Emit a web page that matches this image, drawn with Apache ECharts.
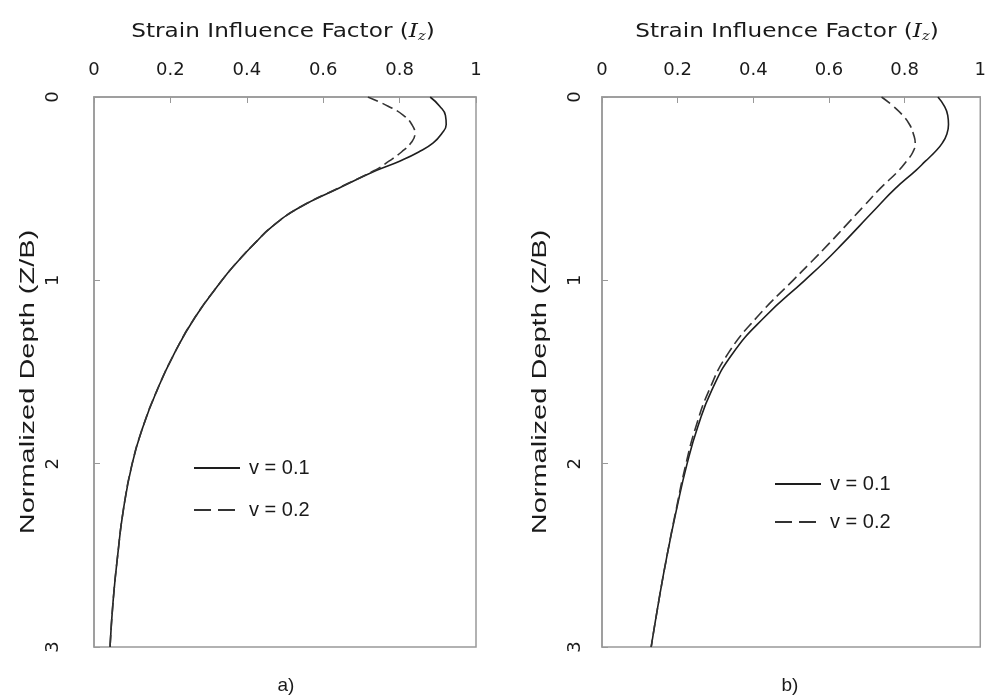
<!DOCTYPE html>
<html>
<head>
<meta charset="utf-8">
<script src="https://cdn.jsdelivr.net/npm/echarts@6/dist/echarts.min.js"></script>
<style>
  html, body { margin: 0; padding: 0; background: #fff; }
  #chart { width: 989px; height: 698px; }
</style>
</head>
<body>
<div id="chart"></div>
<script>
// depth values (Z/B), shared by all curves
const depth = [0, 0.05, 0.1, 0.15, 0.2, 0.25, 0.3, 0.35, 0.4, 0.5, 0.6, 0.7, 0.8, 0.9, 1.0, 1.2, 1.4, 1.6, 1.8, 2.0, 2.25, 2.5, 2.75, 3.0];
// panel a) strain influence factor Iz
const a_v01 = [0.88, 0.905, 0.92, 0.922, 0.91, 0.888, 0.85, 0.8, 0.74, 0.638, 0.54, 0.47, 0.42, 0.375, 0.335, 0.265, 0.21, 0.165, 0.128, 0.1, 0.077, 0.062, 0.05, 0.042];
const a_v02 = [0.717, 0.77, 0.81, 0.832, 0.84, 0.83, 0.805, 0.772, 0.735, 0.636, 0.54, 0.47, 0.42, 0.375, 0.335, 0.265, 0.21, 0.165, 0.128, 0.1, 0.077, 0.062, 0.05, 0.042];
// panel b)
const b_v01 = [0.888, 0.905, 0.914, 0.916, 0.912, 0.9, 0.88, 0.855, 0.83, 0.775, 0.728, 0.682, 0.636, 0.588, 0.536, 0.43, 0.345, 0.29, 0.253, 0.225, 0.197, 0.172, 0.15, 0.13];
const b_v02 = [0.739, 0.77, 0.795, 0.813, 0.823, 0.828, 0.822, 0.805, 0.785, 0.735, 0.69, 0.645, 0.6, 0.553, 0.505, 0.41, 0.333, 0.283, 0.248, 0.222, 0.196, 0.172, 0.15, 0.13];
const xTicks = [0, 0.2, 0.4, 0.6, 0.8, 1];
const yTicks = [0, 1, 2, 3];
const seriesNames = ["v = 0.1", "v = 0.2"];
const panelLabels = ["a)", "b)"];

const pairs = (vals) => vals.map((v, i) => [v, depth[i]]);

const chart = echarts.init(document.getElementById("chart"));

const textColor = "#1a1a1a";
const frame = "#999";

function xAx(gi) {
  return {
    type: "value",
    gridIndex: gi,
    position: "top",
    min: 0,
    max: 1,
    interval: 0.2,
    axisLine: { show: true, lineStyle: { color: frame, width: 1.5 } },
    axisTick: { show: true, inside: true, length: 6, lineStyle: { color: frame } },
    axisLabel: {
      color: textColor,
      fontFamily: "DejaVu Sans",
      fontSize: 18,
      margin: 18,
      formatter: (v) => {
        const r = Math.round(v * 10) / 10;
        return xTicks.includes(r) ? String(r) : "";
      },
    },
    splitLine: { show: false },
  };
}

function yAx(gi, margin) {
  return {
    type: "value",
    gridIndex: gi,
    inverse: true,
    min: 0,
    max: 3,
    interval: 1,
    axisLine: { show: true, lineStyle: { color: frame, width: 1.5 } },
    axisTick: { show: true, inside: true, length: 6, lineStyle: { color: frame } },
    axisLabel: {
      color: textColor,
      fontFamily: "DejaVu Sans",
      fontSize: 18,
      rotate: 90,
      margin: margin,
      formatter: (v) => (yTicks.includes(v) ? String(v) : ""),
    },
    splitLine: { show: false },
  };
}

function line(name, vals, xi, dashed) {
  const c = dashed ? "#333" : "#1e1e1e";
  return {
    name: name,
    type: "line",
    xAxisIndex: xi,
    yAxisIndex: xi,
    data: pairs(vals),
    smooth: true,
    symbol: "none",
    itemStyle: { color: c },
    lineStyle: { color: c, width: 1.6, type: dashed ? [11, 5] : "solid" },
  };
}

function legend(left, top, gap) {
  return {
    left: left,
    top: top,
    orient: "vertical",
    itemGap: gap,
    itemWidth: 46,
    itemHeight: 12,
    data: [
      { name: seriesNames[0] },
      { name: seriesNames[1], lineStyle: { type: [17, 7] } },
    ],
    itemStyle: { opacity: 0 },
    textStyle: { color: textColor, fontFamily: "Liberation Sans", fontSize: 20, padding: [0, 0, 0, 4] },
    selectedMode: false,
  };
}

const titleRich = {
  i: { fontFamily: "DejaVu Serif", fontStyle: "italic", fontSize: 19, fill: textColor },
  s: { fontFamily: "DejaVu Serif", fontStyle: "italic", fontSize: 12, fill: textColor, padding: [10, 0, 0, 0] },
};

function topTitle(cx) {
  return {
    type: "text",
    x: cx,
    y: 32,
    scaleX: 1.22,
    style: {
      text: "Strain Influence Factor ({i|I}{s|z})",
      rich: titleRich,
      fill: textColor,
      font: "19px 'DejaVu Sans'",
      align: "center",
      verticalAlign: "middle",
    },
  };
}

function sideTitle(cx) {
  return {
    type: "text",
    x: cx,
    y: 382,
    rotation: Math.PI / 2,
    scaleX: 1.45,
    style: {
      text: "Normalized Depth (Z/B)",
      fill: textColor,
      font: "20px 'Liberation Sans'",
      align: "center",
      verticalAlign: "middle",
    },
  };
}

const options = {
  backgroundColor: "#fff",
  animation: false,
  grid: [
    { left: 94, top: 97, width: 382, height: 550, show: true, borderColor: frame, borderWidth: 1.5 },
    { left: 602, top: 97, width: 383, height: 550, show: true, borderColor: frame, borderWidth: 1.5 },
  ],
  xAxis: [xAx(0), xAx(1)],
  yAxis: [yAx(0, 32), yAx(1, 18)],
  legend: [legend(188, 453, 22), legend(769, 469, 18)],
  graphic: [
    topTitle(283),
    topTitle(787),
    sideTitle(28),
    sideTitle(540),
    { type: "text", x: 286, y: 686, style: { text: panelLabels[0], fill: textColor, font: "19px 'Liberation Sans'", align: "center", verticalAlign: "middle" } },
    { type: "text", x: 790, y: 686, style: { text: panelLabels[1], fill: textColor, font: "19px 'Liberation Sans'", align: "center", verticalAlign: "middle" } },
  ],
  series: [
    line(seriesNames[0], a_v01, 0, false),
    line(seriesNames[1], a_v02, 0, true),
    line(seriesNames[0], b_v01, 1, false),
    line(seriesNames[1], b_v02, 1, true),
  ],
};

chart.setOption(options);
</script>
</body>
</html>
